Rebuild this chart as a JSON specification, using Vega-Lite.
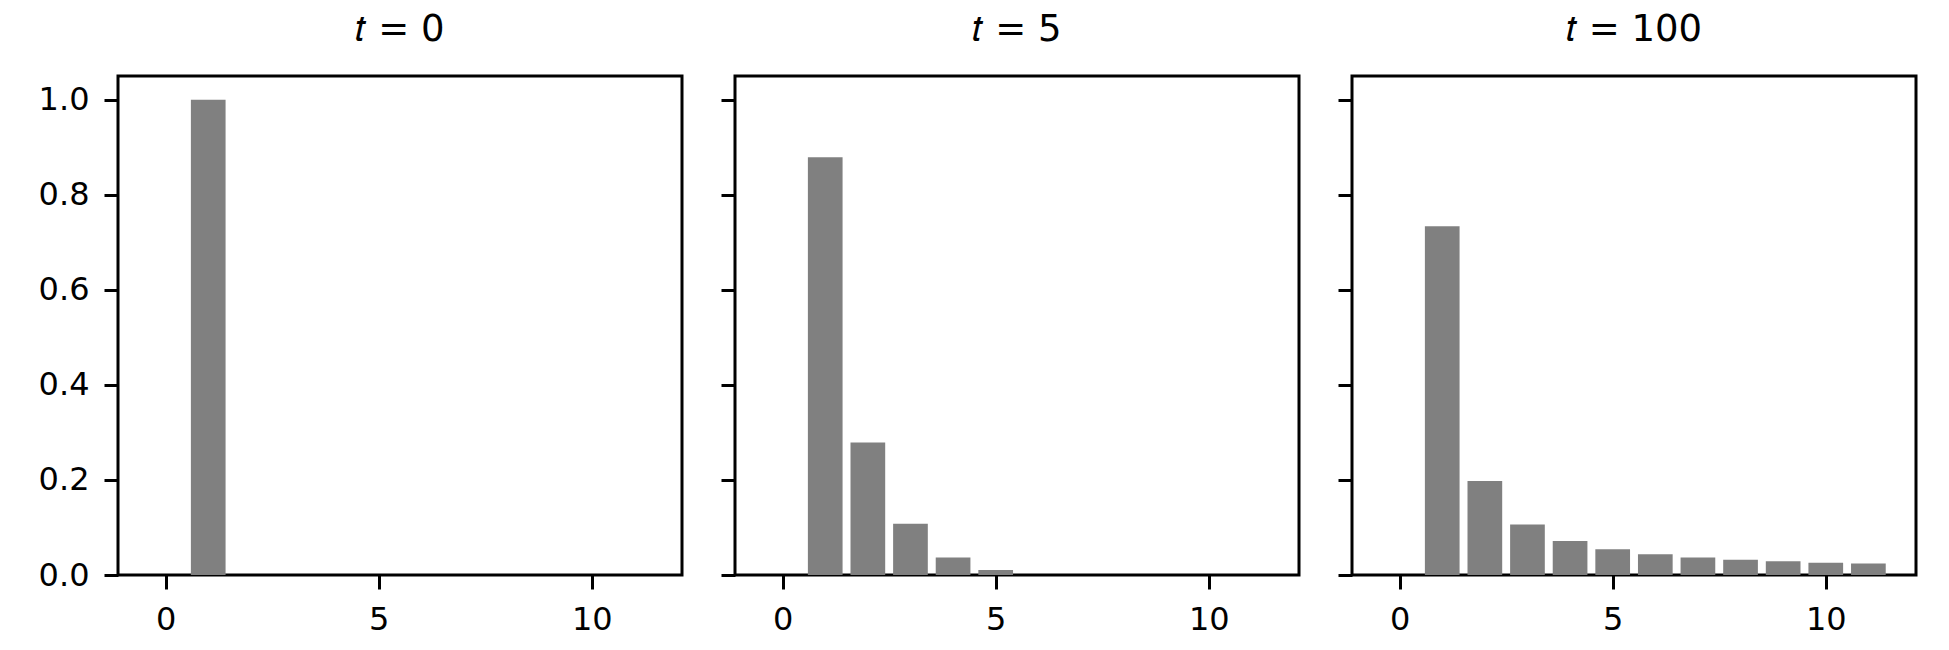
{
  "$schema": "https://vega.github.io/schema/vega-lite/v6.json",
  "background": "white",
  "padding": {"left": 36, "top": 9, "right": 46, "bottom": 15},
  "data": {"values": [
    {"t": 0, "n": 1, "p": 1.0},
    {"t": 0, "n": 2, "p": 0},
    {"t": 0, "n": 3, "p": 0},
    {"t": 0, "n": 4, "p": 0},
    {"t": 0, "n": 5, "p": 0},
    {"t": 0, "n": 6, "p": 0},
    {"t": 0, "n": 7, "p": 0},
    {"t": 0, "n": 8, "p": 0},
    {"t": 0, "n": 9, "p": 0},
    {"t": 0, "n": 10, "p": 0},
    {"t": 0, "n": 11, "p": 0},
    {"t": 5, "n": 1, "p": 0.879},
    {"t": 5, "n": 2, "p": 0.279},
    {"t": 5, "n": 3, "p": 0.108},
    {"t": 5, "n": 4, "p": 0.037},
    {"t": 5, "n": 5, "p": 0.0105},
    {"t": 5, "n": 6, "p": 0},
    {"t": 5, "n": 7, "p": 0},
    {"t": 5, "n": 8, "p": 0},
    {"t": 5, "n": 9, "p": 0},
    {"t": 5, "n": 10, "p": 0},
    {"t": 5, "n": 11, "p": 0},
    {"t": 100, "n": 1, "p": 0.734},
    {"t": 100, "n": 2, "p": 0.198},
    {"t": 100, "n": 3, "p": 0.106},
    {"t": 100, "n": 4, "p": 0.0715},
    {"t": 100, "n": 5, "p": 0.054},
    {"t": 100, "n": 6, "p": 0.0436},
    {"t": 100, "n": 7, "p": 0.0366},
    {"t": 100, "n": 8, "p": 0.032},
    {"t": 100, "n": 9, "p": 0.0288},
    {"t": 100, "n": 10, "p": 0.026},
    {"t": 100, "n": 11, "p": 0.0244}
  ]},
  "config": {
    "view": {"stroke": "black", "strokeWidth": 3},
    "axis": {
      "labelFont": "DejaVu Sans", "labelFontSize": 32, "labelColor": "black",
      "tickColor": "black", "tickSize": 14, "tickWidth": 3,
      "domain": false, "grid": false, "labelPadding": 15
    },
    "title": {"font": "DejaVu Sans", "fontSize": 37, "fontWeight": "normal", "color": "black", "baseline": "alphabetic", "offset": 27},
    "concat": {"spacing": 34}
  },
  "hconcat": [
    {
      "width": 564, "height": 499,
      "title": "𝑡 = 0",
      "transform": [{"filter": "datum.t == 0"}],
      "mark": {"type": "bar", "color": "#808080", "width": 34.7},
      "encoding": {
        "x": {"field": "n", "type": "quantitative", "scale": {"domain": [-1, 12], "nice": false, "zero": false}, "axis": {"values": [0, 5, 10], "title": null}},
        "y": {"field": "p", "type": "quantitative", "scale": {"domain": [0, 1.05], "nice": false}, "axis": {"values": [0, 0.2, 0.4, 0.6, 0.8, 1.0], "format": ".1f", "title": null}}
      }
    },
    {
      "width": 564, "height": 499,
      "title": "𝑡 = 5",
      "transform": [{"filter": "datum.t == 5"}],
      "mark": {"type": "bar", "color": "#808080", "width": 34.7},
      "encoding": {
        "x": {"field": "n", "type": "quantitative", "scale": {"domain": [-1, 12], "nice": false, "zero": false}, "axis": {"values": [0, 5, 10], "title": null}},
        "y": {"field": "p", "type": "quantitative", "scale": {"domain": [0, 1.05], "nice": false}, "axis": {"values": [0, 0.2, 0.4, 0.6, 0.8, 1.0], "labels": false, "title": null}}
      }
    },
    {
      "width": 564, "height": 499,
      "title": "𝑡 = 100",
      "transform": [{"filter": "datum.t == 100"}],
      "mark": {"type": "bar", "color": "#808080", "width": 34.7},
      "encoding": {
        "x": {"field": "n", "type": "quantitative", "scale": {"domain": [-1, 12], "nice": false, "zero": false}, "axis": {"values": [0, 5, 10], "title": null}},
        "y": {"field": "p", "type": "quantitative", "scale": {"domain": [0, 1.05], "nice": false}, "axis": {"values": [0, 0.2, 0.4, 0.6, 0.8, 1.0], "labels": false, "title": null}}
      }
    }
  ]
}
